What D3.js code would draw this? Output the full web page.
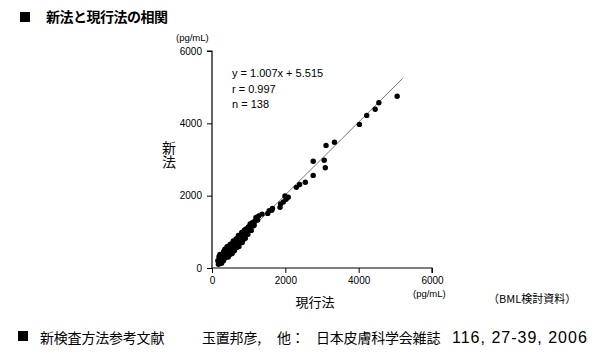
<!DOCTYPE html>
<html><head><meta charset="utf-8">
<script src="https://cdn.jsdelivr.net/npm/d3@7"></script>
<style>body{margin:0;background:#fff}svg{display:block}</style>
</head><body>
<script>
const title = "新法と現行法の相関";
const xTitle = "現行法";
const yTitle = "新法";
const unitLabel = "(pg/mL)";
const ticks = [0, 2000, 4000, 6000];
const annot = ["y = 1.007x + 5.515", "r = 0.997", "n = 138"];
const slope = 1.007, intercept = 5.515;
const lineRange = [150, 5200];
const source = "（BML検討資料）";
const footer = ["新検査方法参考文献", "玉置邦彦,", "他：", "日本皮膚科学会雑誌", "116, 27-39, 2006"];
// current method (x) values
const xVals = [
  5050,4550,4450,4220,4020,3340,3110,3060,3090,2760,
  2760,2545,2390,2300,2080,1990,2020,1945,1870,1855,
  1650,1630,1560,1520,1365,1275,1200,1245,1170,1100,
  1040,990,900,
  160,175,190,200,215,225,240,250,262,270,
  285,290,300,312,320,335,340,352,360,372,
  380,395,400,410,425,430,445,450,462,470,
  485,490,500,512,520,535,540,550,565,570,
  580,592,600,610,622,630,640,655,660,670,
  685,690,700,715,720,735,740,755,760,775,
  780,800,810,825,840,850,865,880,895,910,
  930,950,965,980,1005,1020,1050,1070,1090,1120,
  1150,820,700,560,430,330,260,610,480,380,
  230,300,350,420,470,520,600,650,720,790,
  180,210,280,345,540];
// new method (y) values
const yVals = [
  4750,4570,4390,4220,3970,3475,3390,2980,2770,2950,
  2560,2370,2310,2230,1955,1990,1900,1825,1770,1680,
  1650,1600,1585,1510,1490,1440,1400,1330,1300,1250,
  1215,1125,1050,
  200,105,310,180,375,125,320,260,132,360,
  235,390,320,202,460,395,260,522,330,422,
  510,305,430,590,365,520,305,460,612,430,
  555,370,660,512,440,655,580,400,665,540,
  750,532,660,480,742,640,550,805,640,760,
  575,820,730,655,900,595,810,755,900,695,
  890,760,980,705,890,980,795,1040,915,820,
  1080,970,1055,930,1145,1080,1160,1040,1240,1160,
  1180,870,740,600,480,370,310,650,530,420,
  260,350,400,460,510,560,630,680,760,820,
  200,230,320,390,590];

const W = 609, H = 360;
const svg = d3.select("body").append("svg").attr("width", W).attr("height", H);
const jp = "'Noto Sans CJK JP', 'Noto Sans', sans-serif";
const sans = "Arial, 'Liberation Sans', sans-serif";

const x = d3.scaleLinear().domain([0, 6000]).range([212, 432]);
const y = d3.scaleLinear().domain([0, 6000]).range([268, 51]);

// title
svg.append("rect").attr("x", 20).attr("y", 12).attr("width", 10).attr("height", 10).attr("fill", "#000");
svg.append("text").attr("x", 46).attr("y", 22).attr("font-family", jp).attr("font-size", 14).attr("font-weight", "bold")
  .attr("letter-spacing", -0.5).text(title);

// axes
const yAxis = d3.axisLeft(y).tickValues(ticks).tickSize(5).tickPadding(5).tickFormat(d3.format("d"));
const gy = svg.append("g").attr("transform", `translate(${x(0)},0)`).call(yAxis);
const xAxis = d3.axisBottom(x).tickValues(ticks).tickSize(5).tickPadding(4).tickFormat(d3.format("d"));
const gx = svg.append("g").attr("transform", `translate(0,${y(0)})`).call(xAxis);
[gx, gy].forEach(g => {
  g.select(".domain").attr("stroke", "#000").attr("stroke-width", 1.2);
  g.selectAll(".tick line").attr("stroke", "#000");
  g.selectAll("text").attr("font-family", sans).attr("font-size", 10).attr("fill", "#000");
});
gy.select(".domain").attr("d", `M-5,${y(6000)}H0V${y(0)}`);
gx.select(".domain").attr("d", `M${x(0)},0H${x(6000)}V5`);

// units
svg.append("text").attr("x", 176).attr("y", 41).attr("font-family", sans).attr("font-size", 9.5).text(unitLabel);
svg.append("text").attr("x", 413).attr("y", 297).attr("font-family", sans).attr("font-size", 9.5).text(unitLabel);

// axis titles
svg.append("text").attr("x", 315).attr("y", 307).attr("text-anchor", "middle").attr("font-family", jp).attr("font-size", 13).text(xTitle);
svg.append("text").attr("x", 169).attr("y", 141).attr("writing-mode", "vertical-rl")
  .attr("font-family", jp).attr("font-size", 14).text(yTitle);

// regression line
svg.append("line")
  .attr("x1", x(lineRange[0])).attr("y1", y(slope * lineRange[0] + intercept))
  .attr("x2", x(lineRange[1])).attr("y2", y(slope * lineRange[1] + intercept))
  .attr("stroke", "#777").attr("stroke-width", 1);

// points
svg.append("g").selectAll("circle").data(xVals.map((v, i) => [v, yVals[i]])).join("circle")
  .attr("cx", d => x(d[0])).attr("cy", d => y(d[1])).attr("r", 2.7).attr("fill", "#000");

// annotation
annot.forEach((t, i) => svg.append("text").attr("x", 232).attr("y", 77 + i * 15.5)
  .attr("font-family", sans).attr("font-size", 11).text(t));

// source
svg.append("text").attr("x", 488).attr("y", 303).attr("font-family", jp).attr("font-size", 11).text(source);

// footer
svg.append("rect").attr("x", 18).attr("y", 331).attr("width", 10).attr("height", 10).attr("fill", "#000");
const fx = [40, 202, 277, 316, 452];
footer.forEach((t, i) => svg.append("text").attr("x", fx[i]).attr("y", 343)
  .attr("font-family", i === 4 ? sans : jp).attr("font-size", i === 4 ? 16 : 14)
  .attr("letter-spacing", i === 4 ? 1 : -0.2).text(t));
</script>
</body></html>
